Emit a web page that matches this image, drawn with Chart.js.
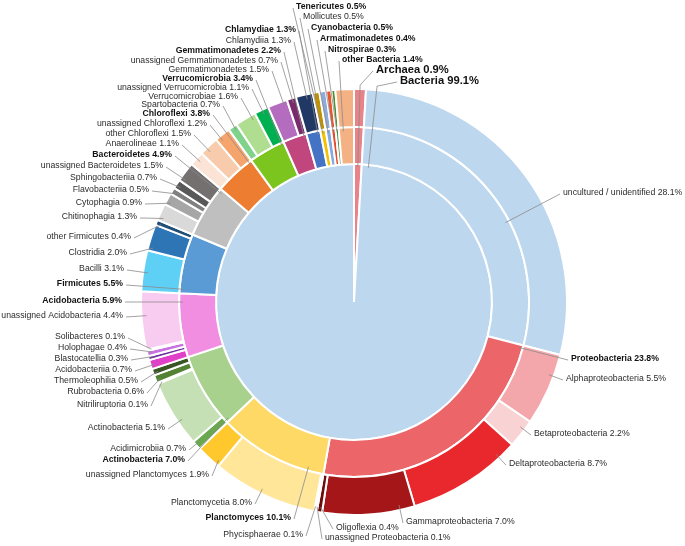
<!DOCTYPE html>
<html>
<head>
<meta charset="utf-8">
<script src="https://cdn.jsdelivr.net/npm/chart.js@4.4.0/dist/chart.umd.min.js"></script>
<style>
  html, body { margin:0; padding:0; background:#fff; }
  #wrap { width:685px; height:546px; }
</style>
</head>
<body>
<div id="wrap"><canvas id="c" width="685" height="546"></canvas></div>
<script>
// ring 1 : domaine
const domainNames  = ['Archaea', 'Bacteria'];
const domainValues = [0.9, 99.1];
const domainColors = ['#e8838a', '#bdd7ee'];

// ring 2 : phylum
const phylumNames = ['Archaea', 'uncultured / unidentified', 'Proteobacteria', 'Planctomyces',
  'Actinobacteria', 'Acidobacteria', 'Firmicutes', 'Bacteroidetes', 'Chloroflexi',
  'Verrucomicrobia', 'Gemmatimonadetes', 'Chlamydiae', 'Tenericutes', 'Cyanobacteria',
  'Armatimonadetes', 'Nitrospirae', 'other Bacteria'];
const phylumValues = [0.9, 28.1, 23.8, 10.1, 7.0, 5.9, 5.5, 4.9, 3.8, 3.4, 2.2, 1.3, 0.5, 0.5, 0.4, 0.3, 1.4];
const phylumColors = ['#e8838a', '#bdd7ee', '#eb6569', '#ffd966', '#a9d18e', '#f28ee2', '#5b9bd5',
  '#bfbfbf', '#ed7d31', '#7cc51e', '#c1467e', '#4472c4', '#f5c000', '#86a9e0', '#e64a2d',
  '#3f9040', '#f4b183'];

// ring 3 : classe
const classNames = ['Archaea', 'uncultured / unidentified',
  'Alphaproteobacteria', 'Betaproteobacteria', 'Deltaproteobacteria', 'Gammaproteobacteria',
  'Oligoflexia', 'unassigned Proteobacteria',
  'Phycisphaerae', 'Planctomycetia', 'unassigned Planctomyces',
  'Acidimicrobiia', 'Actinobacteria', 'Nitriliruptoria', 'Rubrobacteria', 'Thermoleophilia',
  'Acidobacteriia', 'Blastocatellia', 'Holophagae', 'Solibacteres', 'unassigned Acidobacteria',
  'Bacilli', 'Clostridia', 'other Firmicutes',
  'Chitinophagia', 'Cytophagia', 'Flavobacteriia', 'Sphingobacteriia', 'unassigned Bacteroidetes',
  'Anaerolineae', 'other Chloroflexi', 'unassigned Chloroflexi',
  'Spartobacteria', 'Verrucomicrobiae', 'unassigned Verrucomicrobia',
  'Gemmatimonadetes', 'unassigned Gemmatimonadetes',
  'Chlamydiia', 'Mollicutes', 'Cyanobacteria', 'Armatimonadetes', 'Nitrospirae', 'other Bacteria'];
const classValues = [0.9, 28.1,
  5.5, 2.2, 8.7, 7.0, 0.4, 0.1,
  0.1, 8.0, 1.9,
  0.7, 5.1, 0.1, 0.6, 0.5,
  0.7, 0.3, 0.4, 0.1, 4.4,
  3.1, 2.0, 0.4,
  1.3, 0.9, 0.5, 0.7, 1.5,
  1.1, 1.5, 1.2,
  0.7, 1.6, 1.1,
  1.5, 0.7,
  1.3, 0.5, 0.5, 0.4, 0.3, 1.4];
const classColors = ['#e8838a', '#bdd7ee',
  '#f4a7aa', '#f9d3d4', '#e8282c', '#a51619', '#6e0b0b', '#c0504d',
  '#fff2cc', '#ffe699', '#ffc82c',
  '#6aa84f', '#c5e0b4', '#a9d18e', '#548235', '#375623',
  '#e040c8', '#7030a0', '#c872e0', '#f0b0ea', '#f8cbf0',
  '#5fd0f5', '#2e75b6', '#1f4e79',
  '#d9d9d9', '#a6a6a6', '#808080', '#595959', '#747070',
  '#fbe4d5', '#f8cbad', '#f4a46c',
  '#7fd38c', '#b0de90', '#00b050',
  '#b46cbf', '#7a2b6c',
  '#203864', '#bf9000', '#8eaadc', '#e9552d', '#4f8f2f', '#f4b183'];

// etiquettes : [anneau, nom, x, y, alignement, style]  (style n=normal b=gras B=grand gras)
const labelLayout = [
  [0, 'Archaea', 376, 70, 'left', 'B', { elbow: true, frac: 0.5 }],
  [0, 'Bacteria', 400, 81, 'left', 'B', { elbow: true, frac: 0.008 }],
  [1, 'Tenericutes', 296, 7, 'left', 'b'],
  [2, 'Mollicutes', 303, 17, 'left', 'n'],
  [1, 'Cyanobacteria', 311, 28, 'left', 'b'],
  [1, 'Armatimonadetes', 320, 39, 'left', 'b'],
  [1, 'Nitrospirae', 328, 50, 'left', 'b'],
  [1, 'other Bacteria', 342, 60, 'left', 'b'],
  [1, 'Chlamydiae', 296, 30, 'right', 'b'],
  [2, 'Chlamydiia', 291, 41, 'right', 'n'],
  [1, 'Gemmatimonadetes', 281, 51, 'right', 'b'],
  [2, 'unassigned Gemmatimonadetes', 278, 61, 'right', 'n'],
  [2, 'Gemmatimonadetes', 269, 70, 'right', 'n'],
  [1, 'Verrucomicrobia', 253, 79, 'right', 'b'],
  [2, 'unassigned Verrucomicrobia', 249, 88, 'right', 'n'],
  [2, 'Verrucomicrobiae', 238, 97, 'right', 'n'],
  [2, 'Spartobacteria', 220, 105, 'right', 'n'],
  [1, 'Chloroflexi', 210, 114, 'right', 'b'],
  [2, 'unassigned Chloroflexi', 207, 124, 'right', 'n'],
  [2, 'other Chloroflexi', 191, 134, 'right', 'n'],
  [2, 'Anaerolineae', 179, 144, 'right', 'n'],
  [1, 'Bacteroidetes', 172, 155, 'right', 'b'],
  [2, 'unassigned Bacteroidetes', 163, 166, 'right', 'n'],
  [2, 'Sphingobacteriia', 157, 178, 'right', 'n'],
  [2, 'Flavobacteriia', 149, 190, 'right', 'n'],
  [2, 'Cytophagia', 142, 203, 'right', 'n'],
  [2, 'Chitinophagia', 137, 217, 'right', 'n'],
  [2, 'other Firmicutes', 131, 237, 'right', 'n'],
  [2, 'Clostridia', 127, 253, 'right', 'n'],
  [2, 'Bacilli', 124, 269, 'right', 'n'],
  [1, 'Firmicutes', 123, 284, 'right', 'b'],
  [1, 'Acidobacteria', 122, 301, 'right', 'b'],
  [2, 'unassigned Acidobacteria', 123, 316, 'right', 'n'],
  [2, 'Solibacteres', 125, 337, 'right', 'n'],
  [2, 'Holophagae', 127, 348, 'right', 'n'],
  [2, 'Blastocatellia', 128, 359, 'right', 'n'],
  [2, 'Acidobacteriia', 132, 370, 'right', 'n'],
  [2, 'Thermoleophilia', 138, 381, 'right', 'n'],
  [2, 'Rubrobacteria', 144, 392, 'right', 'n'],
  [2, 'Nitriliruptoria', 148, 405, 'right', 'n'],
  [2, 'Actinobacteria', 165, 428, 'right', 'n'],
  [2, 'Acidimicrobiia', 186, 449, 'right', 'n'],
  [1, 'Actinobacteria', 185, 460, 'right', 'b'],
  [2, 'unassigned Planctomyces', 209, 475, 'right', 'n'],
  [2, 'Planctomycetia', 252, 503, 'right', 'n'],
  [1, 'Planctomyces', 291, 518, 'right', 'b'],
  [2, 'Phycisphaerae', 303, 535, 'right', 'n'],
  [2, 'Oligoflexia', 336, 528, 'left', 'n'],
  [2, 'unassigned Proteobacteria', 325, 538, 'left', 'n'],
  [2, 'Gammaproteobacteria', 406, 522, 'left', 'n'],
  [2, 'Deltaproteobacteria', 509, 464, 'left', 'n'],
  [2, 'Betaproteobacteria', 534, 434, 'left', 'n'],
  [2, 'Alphaproteobacteria', 566, 379, 'left', 'n'],
  [1, 'Proteobacteria', 571, 359, 'left', 'b'],
  [1, 'uncultured / unidentified', 563, 193, 'left', 'n']
];

const FONT = '"Liberation Sans", Arial, sans-serif';
const ringNames  = [domainNames, phylumNames, classNames];
const ringValues = [domainValues, phylumValues, classValues];
const ringDataset = [2, 1, 0];   // index du dataset (0 = anneau exterieur)

function targetAngle(arc, lx, ly, opt) {
  const w = arc.endAngle - arc.startAngle;
  if (opt && opt.frac !== undefined) return arc.startAngle + w * opt.frac;
  let d = Math.atan2(ly - arc.y, lx - arc.x) - arc.startAngle;
  d = ((d % (2 * Math.PI)) + 2 * Math.PI) % (2 * Math.PI);
  if (d > w + (2 * Math.PI - w) / 2) d -= 2 * Math.PI;
  const m = Math.min(Math.PI / 180, w * 0.4);
  d = Math.max(m, Math.min(w - m, d));
  return arc.startAngle + d;
}

const labelPlugin = {
  id: 'sunLabels',
  afterDraw: function(chart) {
    const ctx = chart.ctx;
    const outerMeta = chart.getDatasetMeta(0);
    const outerR = outerMeta.data[0].outerRadius;
    ctx.save();
    labelLayout.forEach(function(l) {
      const ring = l[0], name = l[1], x = l[2], y = l[3], align = l[4], style = l[5], opt = l[6];
      const idx = ringNames[ring].indexOf(name);
      const arc = chart.getDatasetMeta(ringDataset[ring]).data[idx];
      if (!arc) return;
      const txt = name + ' ' + ringValues[ring][idx].toFixed(1) + '%';
      ctx.font = (style === 'B' ? 'bold 11.2px ' : style === 'b' ? 'bold 8.7px ' : '8.7px ') + FONT;
      ctx.fillStyle = style === 'n' ? '#2b2b2b' : '#111';
      ctx.textAlign = align;
      ctx.textBaseline = 'middle';
      ctx.fillText(txt, x, y);

      const sx = align === 'right' ? x + 3 : x - 3;
      const sy = y + 1;
      const th = targetAngle(arc, sx, sy, opt);
      const r = ring === 2 ? arc.outerRadius - 5 : ring === 1 ? arc.outerRadius - 4 : arc.outerRadius - 3;
      ctx.strokeStyle = '#8a8a8a';
      ctx.lineWidth = 0.8;
      ctx.beginPath();
      ctx.moveTo(sx, sy);
      if (opt && opt.elbow) {
        ctx.lineTo(arc.x + (outerR + 4) * Math.cos(th), arc.y + (outerR + 4) * Math.sin(th));
      }
      ctx.lineTo(arc.x + r * Math.cos(th), arc.y + r * Math.sin(th));
      ctx.stroke();
    });
    ctx.restore();
  }
};

new Chart(document.getElementById('c').getContext('2d'), {
  type: 'pie',
  data: {
    labels: classNames,
    datasets: [
      { data: classValues, backgroundColor: classColors, borderColor: '#fff', borderWidth: 2, weight: 38 },
      { data: phylumValues, backgroundColor: phylumColors, borderColor: '#fff', borderWidth: 2, weight: 37 },
      { data: domainValues, backgroundColor: domainColors, borderColor: '#fff', borderWidth: 2, weight: 138 }
    ]
  },
  options: {
    responsive: false,
    animation: false,
    devicePixelRatio: 1,
    radius: 213,
    layout: { padding: { left: 141, right: 118, top: 89, bottom: 31 } },
    events: [],
    plugins: { legend: { display: false }, tooltip: { enabled: false } }
  },
  plugins: [labelPlugin]
});
</script>
</body>
</html>
